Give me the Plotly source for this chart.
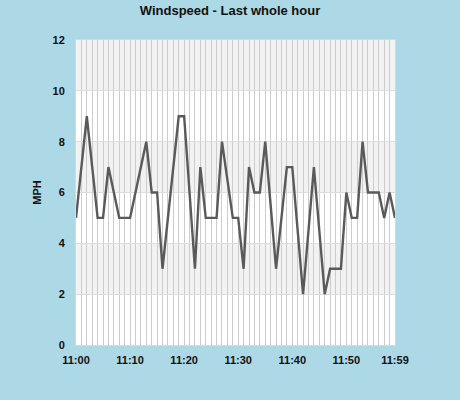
import plotly.graph_objects as go

minutes = list(range(60))
speed_mph = [5, 7, 9, 7, 5, 5, 7, 6, 5, 5,
             5, 6, 7, 8, 6, 6, 3, 5, 7, 9,
             9, 6, 3, 7, 5, 5, 5, 8, 6.5, 5,
             5, 3, 7, 6, 6, 8, 5.5, 3, 5, 7,
             7, 4.5, 2, 4.5, 7, 4.5, 2, 3, 3, 3,
             6, 5, 5, 8, 6, 6, 6, 5, 6, 5]
tick_minutes = [0, 10, 20, 30, 40, 50, 59]
tick_labels = ["11:00", "11:10", "11:20", "11:30", "11:40", "11:50", "11:59"]
band_ranges = [(2, 4), (6, 8), (10, 12)]

fig = go.Figure()
fig.add_trace(go.Scatter(x=minutes, y=speed_mph, mode="lines",
                         line=dict(color="#5a5a5a", width=2.4),
                         hoverinfo="x+y", showlegend=False))

for lo, hi in band_ranges:
    fig.add_shape(type="rect", xref="paper", yref="y", x0=0, x1=1, y0=lo, y1=hi,
                  fillcolor="#f2f2f2", line_width=0, layer="below")

font = "Liberation Sans, Arial, sans-serif"
fig.update_layout(
    width=460, height=400,
    paper_bgcolor="#add8e6", plot_bgcolor="#ffffff",
    margin=dict(l=76, r=65, t=40, b=55),
    title=dict(text="<b>Windspeed - Last whole hour</b>", x=0.5, xanchor="center",
               y=0.973, yanchor="middle", font=dict(family=font, size=13, color="#111")),
    font=dict(family=font, size=11, color="#111"),
    xaxis=dict(range=[0, 59], tickmode="array", tickvals=tick_minutes,
               ticktext=["<b>%s</b>" % t for t in tick_labels],
               showgrid=True, gridcolor="#cccccc", gridwidth=1,
               minor=dict(tickmode="linear", tick0=0, dtick=1, showgrid=True,
                          gridcolor="#cccccc", gridwidth=1),
               zeroline=False, showline=True, linecolor="#d8d8d8", mirror=True,
               ticks="", ticklen=0, ticklabelstandoff=5, fixedrange=True),
    yaxis=dict(range=[0, 12], tickmode="array", tickvals=[0, 2, 4, 6, 8, 10, 12],
               ticktext=["<b>%d</b>" % v for v in [0, 2, 4, 6, 8, 10, 12]],
               showgrid=True, gridcolor="#dddddd", gridwidth=1,
               zeroline=False, showline=True, linecolor="#d8d8d8", mirror=True,
               title=dict(text="<b>MPH</b>", standoff=8, font=dict(size=11)),
               ticks="", ticklabelstandoff=8, fixedrange=True),
)

fig.write_html("out.html", config={"displayModeBar": False},
               post_script="document.body.style.margin='0';")
